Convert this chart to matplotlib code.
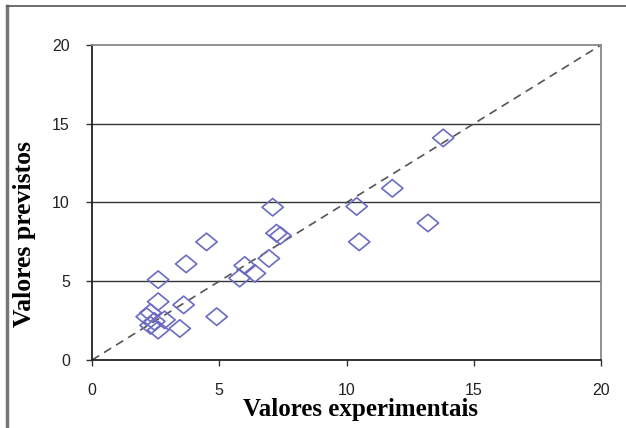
import numpy as np
import matplotlib
matplotlib.use('Agg')
from matplotlib import pyplot as plt
from matplotlib.lines import Line2D
from matplotlib.path import Path

# experimental vs predicted values
experimental = [13.8, 11.8, 10.4, 13.2, 10.5, 7.1, 7.25, 7.4, 4.5, 3.7, 2.6,
                6.95, 6.0, 6.4, 5.8, 2.6, 3.6, 4.9, 3.45,
                2.3, 2.15, 2.45, 2.85, 2.3, 2.6]
predicted = [14.1, 10.9, 9.75, 8.7, 7.5, 9.7, 8.05, 7.9, 7.5, 6.1, 5.1,
             6.45, 6.0, 5.5, 5.2, 3.7, 3.5, 2.75, 2.0,
             3.0, 2.75, 2.45, 2.55, 2.2, 1.9]

ticks = [0, 5, 10, 15, 20]

W, H = 626, 428
fig = plt.figure(figsize=(W / 100, H / 100), dpi=100)
ax = fig.add_axes([92 / W, (H - 360) / H, (601 - 92) / W, (360 - 45) / H])

# flattened diamond marker, as in the spreadsheet original
diamond = Path([(-1, 0), (0, 0.82), (1, 0), (0, -0.82), (-1, 0)],
               [Path.MOVETO, Path.LINETO, Path.LINETO, Path.LINETO, Path.CLOSEPOLY])

for y in ticks[1:-1]:
    ax.axhline(y, color='#333333', lw=1.0, zorder=1)

ax.plot([0, 20], [0, 20], ls=(0, (5, 3.5)), color='#555555', lw=1.2, zorder=2)
ax.scatter(experimental, predicted, marker=diamond, s=235, facecolors='none',
           edgecolors='#6b6bc4', linewidths=1.2, zorder=3)

ax.set_xlim(0, 20)
ax.set_ylim(0, 20)
ax.set_xticks(ticks)
ax.set_yticks(ticks)
ax.tick_params(direction='out', length=4.5, width=1, color='#333333',
               labelsize=11.5, labelcolor='#222222')
ax.tick_params(axis='x', pad=12)
ax.tick_params(axis='y', pad=11.5)
for lbl in ax.get_xticklabels() + ax.get_yticklabels():
    lbl.set_fontfamily('Liberation Sans')

for side in ['left', 'bottom']:
    ax.spines[side].set_color('#222222')
    ax.spines[side].set_linewidth(1.3)
for side in ['top', 'right']:
    ax.spines[side].set_color('#888888')
    ax.spines[side].set_linewidth(1.3)

ax.set_xlabel('Valores experimentais', family='Liberation Serif', weight='bold',
              fontsize=18, va='top')
ax.xaxis.set_label_coords(0.527, -0.122)
ax.set_ylabel('Valores previstos', family='Liberation Serif', weight='bold',
              fontsize=18.5)
ax.yaxis.set_label_coords(-0.11, 0.40)

# outer frame of the pasted chart
fig.add_artist(Line2D([7 / W, 7 / W], [0, 1 - 6 / H], color='#777777', lw=2.5))
fig.add_artist(Line2D([7 / W, 1], [1 - 6 / H, 1 - 6 / H], color='#555555', lw=1.2))

fig.savefig('out.png', dpi=100)
